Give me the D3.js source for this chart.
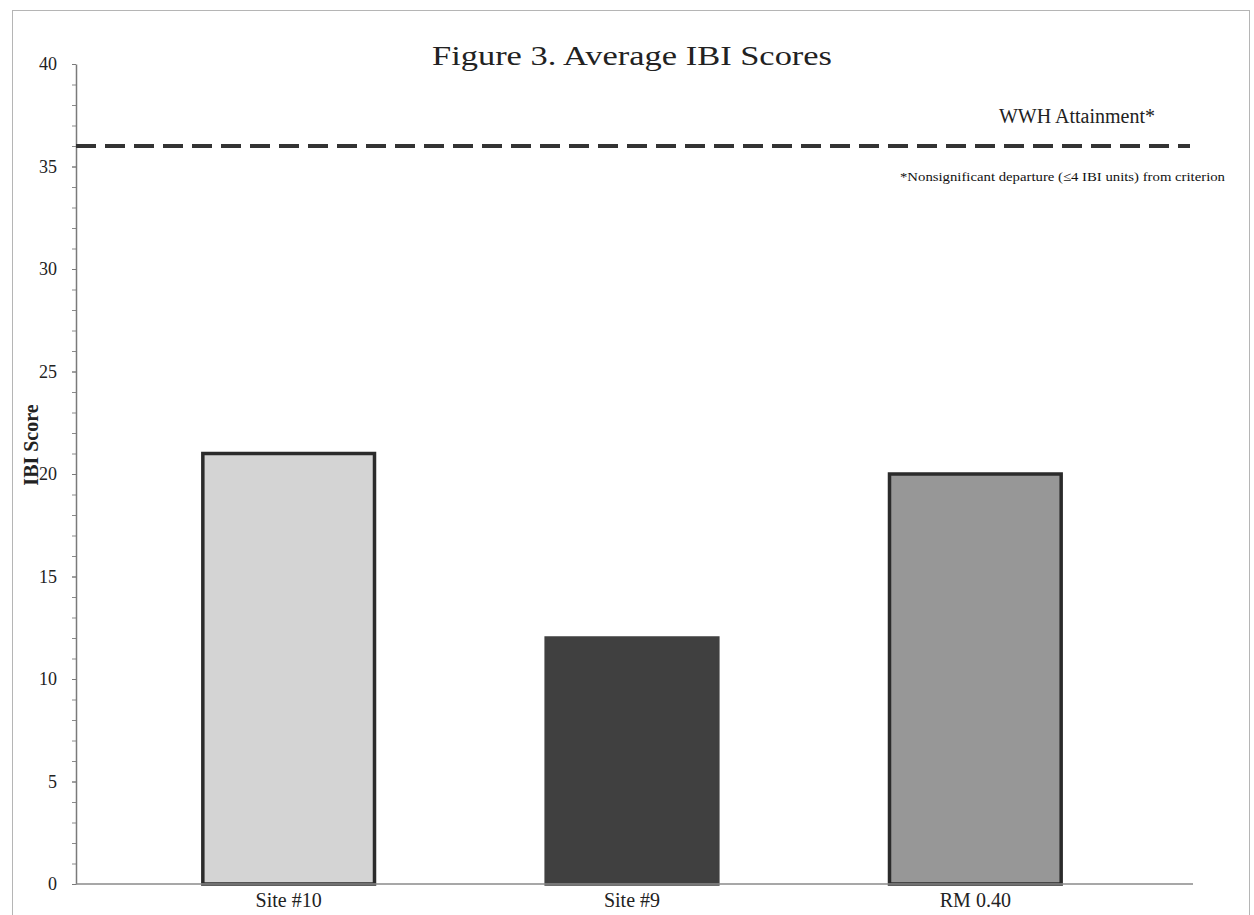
<!DOCTYPE html>
<html>
<head>
<meta charset="utf-8">
<script src="https://cdn.jsdelivr.net/npm/d3@7"></script>
<style>
  body { margin: 0; background: #fff; }
  svg { display: block; }
</style>
</head>
<body>
<svg id="chart" width="1254" height="915"></svg>
<script>
// Sites and their average IBI scores
const sites = ["Site #10", "Site #9", "RM 0.40"];
const ibiScores = [21, 12, 20];
const barFills = ["#d4d4d4", "#404040", "#979797"];
const barStrokes = ["#2b2b2b", "#404040", "#2b2b2b"];

// Axis ticks
const yMajorTicks = [0, 5, 10, 15, 20, 25, 30, 35, 40];
const yMinorTicks = d3.range(0, 41, 1);

// Warmwater habitat attainment criterion
const wwhCriterion = 36;

const svg = d3.select("#chart");
const serif = "'Liberation Serif', 'Times New Roman', serif";

// Outer frame (runs off the bottom of the page)
svg.append("rect")
  .attr("x", 12.5).attr("y", 10.5)
  .attr("width", 1237).attr("height", 940)
  .attr("fill", "none").attr("stroke", "#b5b5b5").attr("stroke-width", 1);

const axisX = 76;
const y = d3.scaleLinear().domain([0, 40]).range([884, 64]);
const x = d3.scaleBand().domain(sites).range([117, 1147])
  .paddingInner(0.5).paddingOuter(0.25);

// Title
svg.append("text")
  .attr("x", 632).attr("y", 65)
  .attr("text-anchor", "middle")
  .attr("font-family", serif).attr("font-size", 28).attr("fill", "#222")
  .attr("textLength", 400).attr("lengthAdjust", "spacingAndGlyphs")
  .text("Figure 3. Average IBI Scores");

// Bars
svg.append("g").selectAll("rect")
  .data(sites)
  .join("rect")
  .attr("x", d => x(d))
  .attr("width", x.bandwidth())
  .attr("y", (d, i) => y(ibiScores[i]))
  .attr("height", (d, i) => y(0) - y(ibiScores[i]))
  .attr("fill", (d, i) => barFills[i])
  .attr("stroke", (d, i) => barStrokes[i])
  .attr("stroke-width", 3.5);

// Minor ticks on the value axis
svg.append("g")
  .attr("transform", `translate(${axisX},0)`)
  .call(d3.axisLeft(y).tickValues(yMinorTicks).tickSize(4).tickFormat(""))
  .call(g => g.select(".domain").remove())
  .call(g => g.selectAll("line").attr("stroke", "#8a8a8a"));

// Major ticks, labels and axis line
svg.append("g")
  .attr("transform", `translate(${axisX},0)`)
  .call(d3.axisLeft(y).tickValues(yMajorTicks).tickSize(4).tickPadding(15).tickSizeOuter(0))
  .call(g => g.select(".domain").attr("stroke", "#7a7a7a").attr("stroke-width", 1.5))
  .call(g => g.selectAll("line").attr("stroke", "#7a7a7a"))
  .call(g => g.selectAll("text")
    .attr("font-family", serif).attr("font-size", 18).attr("fill", "#222"));

// Category axis
svg.append("line")
  .attr("x1", axisX).attr("x2", 1193)
  .attr("y1", y(0)).attr("y2", y(0))
  .attr("stroke", "#8a8a8a").attr("stroke-width", 1.5);

svg.append("g").selectAll("text")
  .data(sites)
  .join("text")
  .attr("x", d => x(d) + x.bandwidth() / 2)
  .attr("y", y(0) + 23)
  .attr("text-anchor", "middle")
  .attr("font-family", serif).attr("font-size", 20).attr("fill", "#222")
  .text(d => d);

// Value axis title
svg.append("text")
  .attr("transform", `translate(38,445) rotate(-90)`)
  .attr("text-anchor", "middle")
  .attr("font-family", serif).attr("font-size", 20).attr("font-weight", "bold")
  .attr("fill", "#222")
  .text("IBI Score");

// Criterion line
svg.append("line")
  .attr("x1", axisX).attr("x2", 1190)
  .attr("y1", y(wwhCriterion)).attr("y2", y(wwhCriterion))
  .attr("stroke", "#333").attr("stroke-width", 4)
  .attr("stroke-dasharray", "20,9");

svg.append("text")
  .attr("x", 1155).attr("y", 123)
  .attr("text-anchor", "end")
  .attr("font-family", serif).attr("font-size", 20).attr("fill", "#222")
  .text("WWH Attainment*");

svg.append("text")
  .attr("x", 900).attr("y", 181)
  .attr("font-family", serif).attr("font-size", 13).attr("fill", "#111")
  .attr("textLength", 325).attr("lengthAdjust", "spacingAndGlyphs")
  .text("*Nonsignificant departure (\u22644 IBI units) from criterion");
</script>
</body>
</html>
